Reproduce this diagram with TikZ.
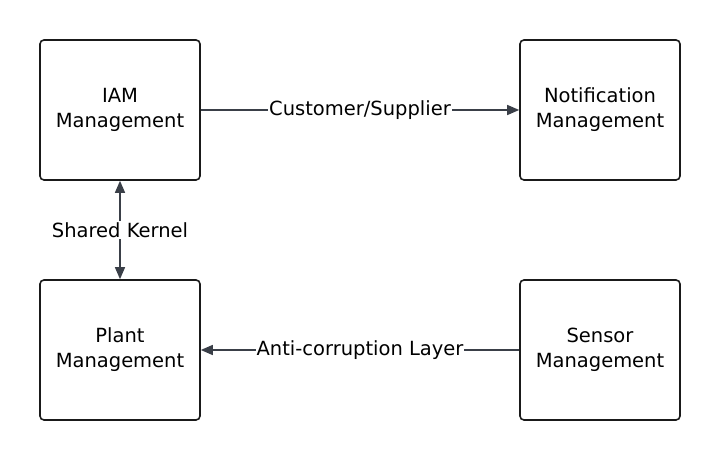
\documentclass[tikz,border=0pt]{standalone}
\usepackage{fontspec}
\setmainfont{DejaVu Sans}
\usetikzlibrary{arrows.meta}
\definecolor{edgegray}{HTML}{3A3F48}
\definecolor{boxline}{HTML}{1A1A1A}
\tikzset{
	context/.style={draw=boxline, line width=1.6bp, rounded corners=4bp, minimum width=160bp, minimum height=140bp, align=center, font=\fontsize{19.5bp}{25bp}\selectfont},
	relation/.style={draw=edgegray, line width=1.4bp, -{Triangle[length=12bp,width=10bp]}},
	rellabel/.style={fill=white, inner sep=1bp, font=\fontsize{19.5bp}{25bp}\selectfont}
}
\begin{document}
\begin{tikzpicture}[x=1bp, y=1bp]
	\useasboundingbox (0, 0) rectangle (720, 460);
	
	% bounded contexts
	\node[context] (iam) at (120, 350) {IAM\\Management};
	\node[context] (notification) at (600, 350) {Notification\\Management};
	\node[context] (plant) at (120, 110) {Plant\\Management};
	\node[context] (sensor) at (600, 110) {Sensor\\Management};
	
	% relations
	\draw[relation] (iam) -- node[rellabel] {Customer/Supplier} (notification);
	\draw[relation, {Triangle[length=12bp,width=10bp]}-{Triangle[length=12bp,width=10bp]}] (iam) -- node[rellabel] {Shared Kernel} (plant);
	\draw[relation] (sensor) -- node[rellabel] {Anti-corruption Layer} (plant);
\end{tikzpicture}
\end{document}
